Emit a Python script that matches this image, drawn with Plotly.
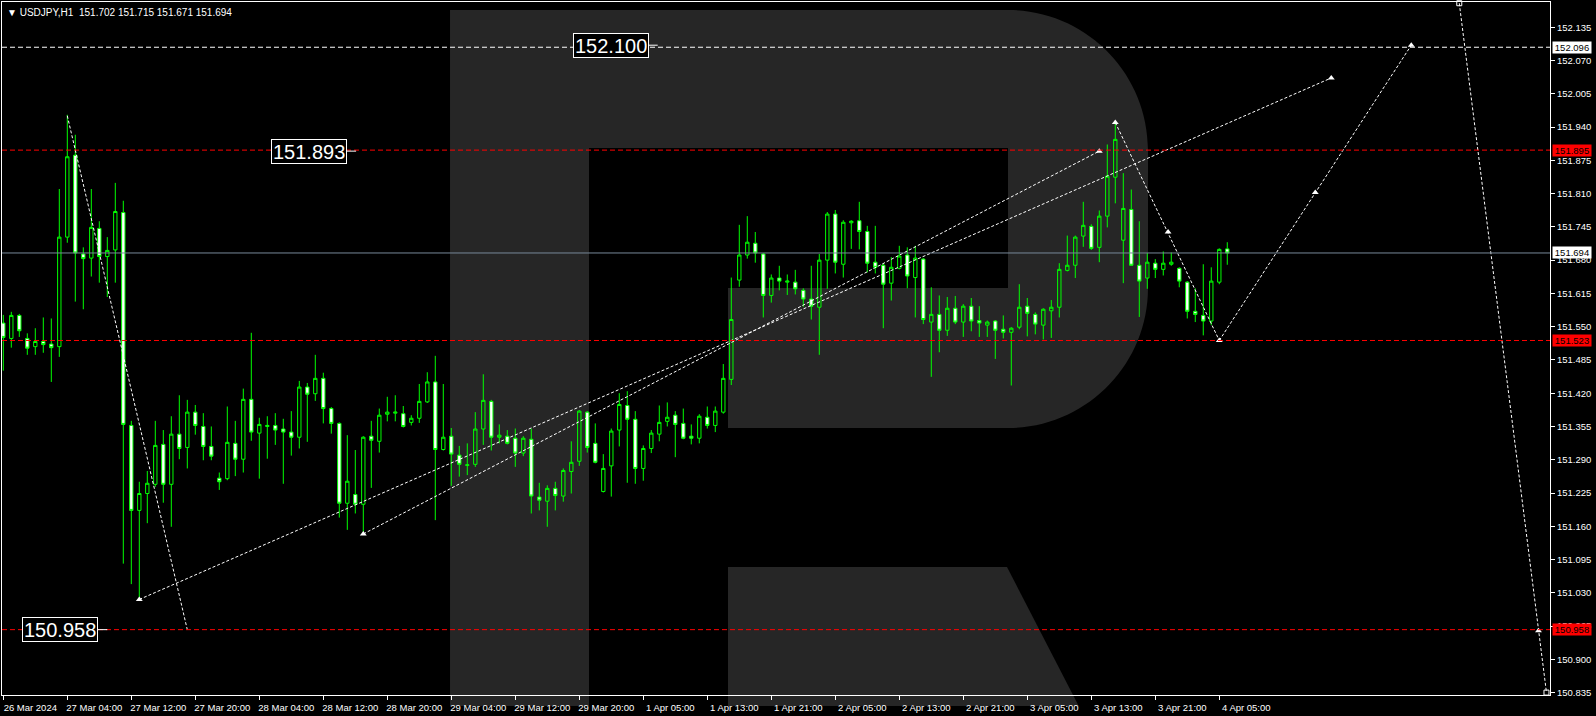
import plotly.graph_objects as go

# ---------------- data ----------------
symbol = "USDJPY,H1"
header_ohlc = ["151.702", "151.715", "151.671", "151.694"]

opens = [151.557, 151.527, 151.572, 151.527, 151.511, 151.521, 151.516, 151.511, 151.725, 151.885,
         151.692, 151.684, 151.742, 151.687, 151.700, 151.773, 151.357, 151.191, 151.224, 151.242,
         151.320, 151.242, 151.340, 151.314, 151.383, 151.355, 151.316, 151.254, 151.253, 151.322,
         151.291, 151.408, 151.342, 151.355, 151.357, 151.350, 151.344, 151.334, 151.432, 151.419,
         151.449, 151.390, 151.361, 151.205, 151.222, 151.203, 151.336, 151.326, 151.379, 151.381,
         151.380, 151.363, 151.371, 151.403, 151.442, 151.310, 151.336, 151.299, 151.279, 151.281,
         151.350, 151.404, 151.334, 151.336, 151.332, 151.303, 151.330, 151.217, 151.209, 151.234,
         151.219, 151.267, 151.287, 151.383, 151.322, 151.228, 151.278, 151.348, 151.396, 151.369,
         151.273, 151.312, 151.340, 151.365, 151.377, 151.361, 151.336, 151.332, 151.373, 151.357,
         151.383, 151.447, 151.641, 151.690, 151.713, 151.692, 151.611, 151.645, 151.637, 151.637,
         151.621, 151.604, 151.588, 151.680, 151.770, 151.672, 151.753, 151.757, 151.736, 151.676,
         151.670, 151.635, 151.664, 151.690, 151.646, 151.682, 151.559, 151.574, 151.543, 151.586,
         151.559, 151.590, 151.562, 151.553, 151.561, 151.545, 151.539, 151.549, 151.590, 151.574,
         151.553, 151.581, 151.588, 151.660, 151.670, 151.727, 151.746, 151.705, 151.766, 151.842,
         151.719, 151.779, 151.670, 151.645, 151.674, 151.662, 151.672, 151.664, 151.637, 151.580,
         151.572, 151.561, 151.637, 151.702]

highs = [151.573, 151.579, 151.575, 151.537, 151.547, 151.568, 151.566, 151.819, 151.964, 151.925,
         151.705, 151.819, 151.756, 151.725, 151.831, 151.796, 151.366, 151.247, 151.268, 151.366,
         151.348, 151.375, 151.416, 151.407, 151.397, 151.381, 151.355, 151.265, 151.394, 151.366,
         151.429, 151.538, 151.372, 151.375, 151.381, 151.370, 151.385, 151.444, 151.440, 151.495,
         151.460, 151.393, 151.363, 151.338, 151.309, 151.336, 151.366, 151.390, 151.413, 151.416,
         151.395, 151.377, 151.438, 151.461, 151.493, 151.438, 151.352, 151.317, 151.322, 151.383,
         151.457, 151.407, 151.359, 151.348, 151.351, 151.336, 151.351, 151.245, 151.240, 151.247,
         151.273, 151.326, 151.387, 151.385, 151.361, 151.301, 151.351, 151.420, 151.424, 151.385,
         151.318, 151.348, 151.396, 151.402, 151.385, 151.390, 151.359, 151.379, 151.394, 151.394,
         151.477, 151.646, 151.749, 151.766, 151.735, 151.694, 151.652, 151.669, 151.652, 151.661,
         151.625, 151.669, 151.692, 151.774, 151.778, 151.758, 151.758, 151.794, 151.747, 151.747,
         151.674, 151.686, 151.708, 151.705, 151.708, 151.684, 151.627, 151.611, 151.608, 151.610,
         151.594, 151.606, 151.590, 151.562, 151.563, 151.572, 151.549, 151.633, 151.606, 151.578,
         151.586, 151.602, 151.674, 151.728, 151.728, 151.794, 151.750, 151.777, 151.906, 151.949,
         151.850, 151.818, 151.756, 151.694, 151.682, 151.697, 151.695, 151.666, 151.639, 151.625,
         151.672, 151.666, 151.703, 151.715]

lows = [151.464, 151.509, 151.530, 151.495, 151.495, 151.499, 151.442, 151.491, 151.714, 151.599,
        151.584, 151.648, 151.636, 151.608, 151.636, 151.087, 151.047, 151.017, 151.166, 151.237,
        151.206, 151.159, 151.291, 151.273, 151.339, 151.289, 151.289, 151.231, 151.250, 151.258,
        151.265, 151.327, 151.253, 151.292, 151.319, 151.243, 151.298, 151.312, 151.325, 151.405,
        151.361, 151.341, 151.177, 151.153, 151.185, 151.145, 151.235, 151.304, 151.365, 151.365,
        151.353, 151.357, 151.362, 151.401, 151.172, 151.308, 151.239, 151.257, 151.260, 151.276,
        151.319, 151.308, 151.322, 151.320, 151.276, 151.297, 151.185, 151.191, 151.159, 151.191,
        151.208, 151.224, 151.278, 151.304, 151.283, 151.226, 151.218, 151.316, 151.245, 151.243,
        151.249, 151.303, 151.326, 151.355, 151.295, 151.330, 151.320, 151.322, 151.351, 151.344,
        151.380, 151.436, 151.628, 151.683, 151.675, 151.568, 151.597, 151.621, 151.612, 151.613,
        151.589, 151.564, 151.495, 151.624, 151.654, 151.646, 151.702, 151.701, 151.656, 151.654,
        151.547, 151.601, 151.662, 151.625, 151.568, 151.555, 151.452, 151.500, 151.532, 151.555,
        151.530, 151.541, 151.530, 151.530, 151.487, 151.527, 151.435, 151.545, 151.531, 151.535,
        151.525, 151.528, 151.568, 151.658, 151.645, 151.706, 151.700, 151.676, 151.744, 151.791,
        151.635, 151.669, 151.569, 151.624, 151.645, 151.650, 151.669, 151.627, 151.566, 151.559,
        151.533, 151.553, 151.633, 151.671]

closes = [151.529, 151.572, 151.542, 151.508, 151.521, 151.515, 151.509, 151.725, 151.882, 151.694,
          151.683, 151.744, 151.687, 151.699, 151.775, 151.359, 151.191, 151.224, 151.244, 151.318,
          151.242, 151.340, 151.312, 151.383, 151.357, 151.316, 151.297, 151.247, 151.324, 151.291,
          151.408, 151.344, 151.359, 151.357, 151.348, 151.344, 151.334, 151.432, 151.418, 151.449,
          151.390, 151.361, 151.205, 151.248, 151.203, 151.334, 151.328, 151.377, 151.383, 151.383,
          151.355, 151.371, 151.404, 151.442, 151.310, 151.334, 151.301, 151.281, 151.280, 151.350,
          151.406, 151.334, 151.338, 151.322, 151.303, 151.332, 151.219, 151.211, 151.234, 151.220,
          151.269, 151.285, 151.385, 151.314, 151.285, 151.273, 151.346, 151.398, 151.369, 151.273,
          151.312, 151.342, 151.363, 151.373, 151.359, 151.332, 151.332, 151.375, 151.357, 151.385,
          151.449, 151.564, 151.690, 151.715, 151.694, 151.611, 151.645, 151.639, 151.639, 151.624,
          151.604, 151.590, 151.680, 151.770, 151.676, 151.754, 151.756, 151.736, 151.674, 151.666,
          151.633, 151.666, 151.688, 151.649, 151.684, 151.564, 151.574, 151.543, 151.586, 151.559,
          151.590, 151.561, 151.557, 151.559, 151.543, 151.539, 151.547, 151.588, 151.576, 151.555,
          151.584, 151.588, 151.662, 151.670, 151.725, 151.748, 151.703, 151.766, 151.844, 151.916,
          151.781, 151.670, 151.639, 151.676, 151.662, 151.674, 151.676, 151.639, 151.580, 151.574,
          151.561, 151.639, 151.701, 151.694]

# time-axis labels, one every 8 hourly bars
tick_bars = [0, 8, 16, 24, 32, 40, 48, 56, 64, 72, 80, 88, 96, 104, 112, 120, 128, 136, 144, 152]
tick_labels = ["26 Mar 2024", "27 Mar 04:00", "27 Mar 12:00", "27 Mar 20:00", "28 Mar 04:00",
               "28 Mar 12:00", "28 Mar 20:00", "29 Mar 04:00", "29 Mar 12:00", "29 Mar 20:00",
               "1 Apr 05:00", "1 Apr 13:00", "1 Apr 21:00", "2 Apr 05:00", "2 Apr 13:00",
               "2 Apr 21:00", "3 Apr 05:00", "3 Apr 13:00", "3 Apr 21:00", "4 Apr 05:00"]

price_ticks = [150.835, 150.900, 150.965, 151.030, 151.095, 151.160, 151.225, 151.290, 151.355,
               151.420, 151.485, 151.550, 151.615, 151.680, 151.745, 151.810, 151.875, 151.940,
               152.005, 152.070, 152.135]

# forecast / trend lines (bar index, price)
trend_x0 = [8, 17, 45, 139, 152, 182]
trend_y0 = [151.962, 151.017, 151.145, 151.949, 151.523, 152.182]
trend_x1 = [23, 166, 137, 152, 176, 192.9]
trend_y1 = [150.958, 152.036, 151.893, 151.523, 152.100, 150.835]

marker_x = [17, 45, 137, 166, 139, 145.6, 152, 164, 176, 191.9]
marker_y = [151.017, 151.145, 151.893, 152.036, 151.949, 151.735, 151.523, 151.812, 152.100, 150.956]
square_x = [182, 192.9]
square_y = [152.182, 150.835]

# horizontal levels
white_levels = [152.096]
red_levels = [151.895, 151.523, 150.958]
bid_level = 151.694

# right-axis price tags
tag_prices = [152.096, 151.895, 151.694, 151.523, 150.958]
tag_kinds = ["white", "red", "white", "red", "red"]

# big text labels on chart
label_texts = ["152.100", "151.893", "150.958"]
label_prices = [152.100, 151.893, 150.958]
label_bars = [81.8, 44.1, 13.0]

# ---------------- style ----------------
GREEN = "#00ff00"
GRAY_R = "#262626"
FONT = "Liberation Sans, Arial, sans-serif"

W, H = 1596, 716
ML, MR, MT, MB = 2, 46, 2, 21
PW = W - ML - MR
PH = H - MT - MB

bars = list(range(len(opens)))

fig = go.Figure()

fig.add_trace(go.Candlestick(
    x=bars, open=opens, high=highs, low=lows, close=closes,
    increasing=dict(line=dict(color=GREEN, width=1), fillcolor="rgba(0,0,0,0)"),
    decreasing=dict(line=dict(color=GREEN, width=1), fillcolor="white"),
    whiskerwidth=0, hoverinfo="skip", showlegend=False,
))

for x0, y0, x1, y1 in zip(trend_x0, trend_y0, trend_x1, trend_y1):
    fig.add_trace(go.Scatter(x=[x0, x1], y=[y0, y1], mode="lines",
                             line=dict(color="white", width=1, dash="3px,2px"),
                             hoverinfo="skip", showlegend=False))

fig.add_trace(go.Scatter(x=marker_x, y=marker_y, mode="markers",
                         marker=dict(symbol="triangle-up", size=6, color="white", line=dict(width=0)),
                         hoverinfo="skip", showlegend=False))
fig.add_trace(go.Scatter(x=square_x, y=square_y, mode="markers",
                         marker=dict(symbol="square-open", size=5, color="white", line=dict(width=1)),
                         hoverinfo="skip", showlegend=False, cliponaxis=False))


def P(x, y):
    return f"{(x - ML) / PW:.5f},{(H - MB - y) / PH:.5f}"


k = 77.3
stem = f"M{P(450,10)} L{P(589,10)} L{P(589,706)} L{P(450,706)} Z"
bowl = (f"M{P(589,10)} L{P(1008,10)} C{P(1008+k,10)} {P(1148,150-k)} {P(1148,150)} "
        f"L{P(1148,288)} C{P(1148,288+k)} {P(1008+k,428)} {P(1008,428)} "
        f"L{P(728,428)} L{P(728,288)} L{P(1008,288)} L{P(1008,148)} L{P(589,148)} Z")
leg = f"M{P(728,567)} L{P(1007,567)} L{P(1078.7,706)} L{P(728,706)} Z"

shapes = []
for path in (stem, bowl, leg):
    shapes.append(dict(type="path", path=path, xref="paper", yref="paper",
                       fillcolor=GRAY_R, line=dict(width=0), layer="below"))

for lv in white_levels:
    shapes.append(dict(type="line", xref="paper", x0=0, x1=1, yref="y", y0=lv, y1=lv,
                       line=dict(color="white", width=1, dash="5px,3px"), layer="above"))
for lv in red_levels:
    shapes.append(dict(type="line", xref="paper", x0=0, x1=1, yref="y", y0=lv, y1=lv,
                       line=dict(color="#ff0000", width=1, dash="5px,3px"), layer="above"))
shapes.append(dict(type="line", xref="paper", x0=0, x1=1, yref="y", y0=bid_level, y1=bid_level,
                   line=dict(color="#778899", width=1), layer="above"))

annotations = []
annotations.append(dict(
    xref="paper", yref="paper", x=0, y=1, xanchor="left", yanchor="top", xshift=3, yshift=-3,
    text="\u25BC " + symbol + "\u00a0\u00a0" + " ".join(header_ohlc),
    showarrow=False, font=dict(family=FONT, size=10, color="white")))

for p, kind in zip(tag_prices, tag_kinds):
    bg = "white" if kind == "white" else "#ff0000"
    annotations.append(dict(
        xref="paper", yref="y", x=1, y=p, xanchor="left", yanchor="middle", xshift=2,
        text=f"{p:.3f}", showarrow=False, bgcolor=bg, width=37, height=10, borderpad=0.5,
        font=dict(family=FONT, size=9.5, color="black")))

for t, p, b in zip(label_texts, label_prices, label_bars):
    annotations.append(dict(
        xref="x", yref="y", x=b, y=p, text=t, showarrow=True, arrowhead=0, arrowwidth=1,
        arrowcolor="white", ax=-47, ay=0, standoff=0,
        font=dict(family=FONT, size=20, color="white"),
        bgcolor="black", bordercolor="white", borderwidth=1, borderpad=1, height=21))

fig.update_layout(
    width=W, height=H,
    margin=dict(l=ML, r=MR, t=MT, b=MB, pad=0),
    paper_bgcolor="black", plot_bgcolor="rgba(0,0,0,0)",
    showlegend=False, boxgap=0.4,
    font=dict(family=FONT, size=9.5, color="white"),
    shapes=shapes, annotations=annotations,
    xaxis=dict(range=[-0.1625, 193.34], showgrid=False, zeroline=False,
               showline=True, mirror=True, linecolor="white", linewidth=1,
               ticks="outside", ticklen=4, tickcolor="white", tickwidth=1,
               tickvals=tick_bars, ticktext=tick_labels, ticklabelshift=27,
               tickfont=dict(family=FONT, size=9.5, color="white"),
               rangeslider=dict(visible=False), fixedrange=True),
    yaxis=dict(side="right", range=[150.8303, 152.1844], showgrid=False, zeroline=False,
               showline=True, mirror=True, linecolor="white", linewidth=1,
               ticks="outside", ticklen=4, tickcolor="white", tickwidth=1,
               tickvals=price_ticks, ticktext=[f"{v:.3f}" for v in price_ticks],
               tickfont=dict(family=FONT, size=9.5, color="white"), fixedrange=True),
)

fig.write_html("out.html", config={"displayModeBar": False},
               post_script="document.body.style.margin='0';document.body.style.background='black';")
